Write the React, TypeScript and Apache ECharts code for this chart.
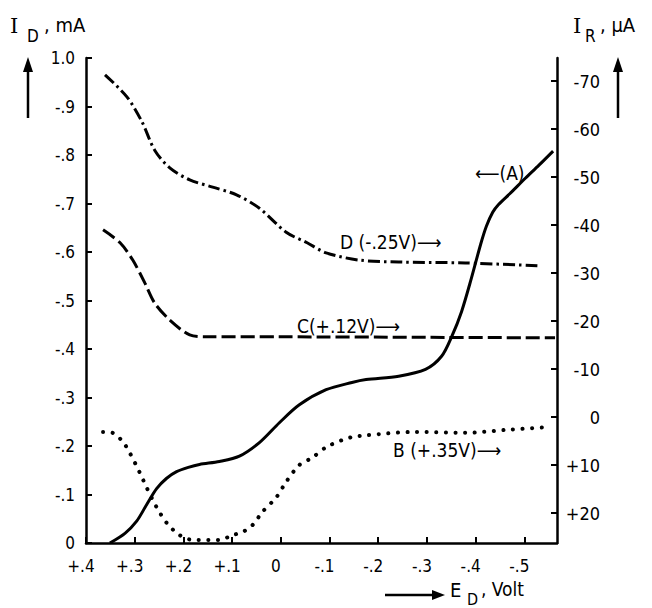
import React, { useEffect, useRef } from "react";
import * as echarts from "echarts";

// x axis: E_D in volts (left +0.4 to right about -0.57)
const xTickValues = [0.4, 0.3, 0.2, 0.1, 0, -0.1, -0.2, -0.3, -0.4, -0.5];
const xTickLabels = ["+.4", "+.3", "+.2", "+.1", "0", "-.1", "-.2", "-.3", "-.4", "-.5"];

// left axis: I_D in mA
const leftTickValues = [0, 0.1, 0.2, 0.3, 0.4, 0.5, 0.6, 0.7, 0.8, 0.9, 1.0];
const leftTickLabels = ["0", "-.1", "-.2", "-.3", "-.4", "-.5", "-.6", "-.7", "-.8", "-.9", "1.0"];

// right axis: I_R in µA (inverted)
const rightTickValues = [20, 10, 0, -10, -20, -30, -40, -50, -60, -70];
const rightTickLabels = ["+20", "+10", "0", "-10", "-20", "-30", "-40", "-50", "-60", "-70"];

// Curve A (left axis, I_D mA)
const curveA: [number, number][] = [
  [0.351, 0], [0.32, 0.02], [0.296, 0.045], [0.275, 0.08], [0.255, 0.112], [0.235, 0.133],
  [0.214, 0.147], [0.19, 0.156], [0.167, 0.162], [0.126, 0.168], [0.085, 0.179],
  [0.044, 0.207], [0.003, 0.248], [-0.038, 0.285], [-0.093, 0.316], [-0.146, 0.331],
  [-0.175, 0.337], [-0.242, 0.344], [-0.297, 0.358], [-0.33, 0.385], [-0.351, 0.426],
  [-0.371, 0.477], [-0.391, 0.545], [-0.41, 0.615], [-0.422, 0.653], [-0.435, 0.682],
  [-0.447, 0.698], [-0.47, 0.72], [-0.502, 0.752], [-0.53, 0.779], [-0.559, 0.808],
];

// Curve D (-.25V) right axis, I_R µA
const curveD: [number, number][] = [
  [0.361, -71.3], [0.316, -66.7], [0.285, -61.5], [0.259, -55.6], [0.228, -51.9],
  [0.187, -49.4], [0.14, -47.9], [0.091, -46.3], [0.044, -43.5], [-0.011, -38.5],
  [-0.054, -36.3], [-0.093, -34.2], [-0.16, -32.7], [-0.242, -32.3], [-0.379, -32.1],
  [-0.528, -31.5],
];

// Curve C (+.12V) right axis
const curveC: [number, number][] = [
  [0.365, -39.0], [0.33, -36.3], [0.304, -32.7], [0.279, -27.9], [0.259, -23.75],
  [0.228, -20.2], [0.187, -17.1], [0.153, -16.7], [0.003, -16.7], [-0.3, -16.6],
  [-0.563, -16.5],
];

// Curve B (+.35V) right axis
const curveB: [number, number][] = [
  [0.365, 3.1], [0.345, 3.3], [0.324, 5.2], [0.31, 7.5], [0.29, 11.5], [0.275, 14.8],
  [0.255, 18.8], [0.234, 22.1], [0.208, 24.6], [0.181, 25.6], [0.126, 25.6],
  [0.099, 24.6], [0.079, 24.0], [0.058, 22.5], [0.038, 19.8], [0.009, 16.7],
  [-0.011, 13.5], [-0.038, 10.0], [-0.064, 8.5], [-0.093, 6.3], [-0.126, 4.8],
  [-0.146, 4.2], [-0.175, 3.8], [-0.277, 3.1], [-0.379, 3.3], [-0.461, 2.7],
  [-0.549, 2.1],
];

const FONT = "'DejaVu Sans Condensed', 'DejaVu Sans', sans-serif";
const SERIF = "'DejaVu Serif', serif";

function labelFor(values: number[], labels: string[]) {
  return (v: number) => {
    let best = 0;
    let bd = Infinity;
    values.forEach((t, i) => {
      const d = Math.abs(t - v);
      if (d < bd) { bd = d; best = i; }
    });
    return labels[best];
  };
}

export default function App() {
  const ref = useRef<HTMLDivElement>(null);
  useEffect(() => {
    if (!ref.current) return;
    const chart = echarts.init(ref.current, undefined, { renderer: "svg" });
    const axisLine = { show: true, onZero: false, lineStyle: { color: "#000", width: 2.5 } };
    const axisTick = (vals: number[]) => ({
      show: true, inside: true, length: 6, customValues: vals,
      lineStyle: { color: "#000", width: 2 },
    });
    const txt = (text: string, x: number, y: number, size: number, family: string = FONT) => ({
      type: "text", x, y,
      style: { text, fill: "#000", font: `${size}px ${family}`, textVerticalAlign: "middle" },
    });
    const lineCommon = { smooth: 0.3, showSymbol: false };
    chart.setOption({
      animation: false,
      grid: { left: 86, right: 95, top: 58, bottom: 65 },
      xAxis: {
        type: "value", inverse: true, min: -0.567, max: 0.4,
        axisLine, axisTick: axisTick(xTickValues), splitLine: { show: false },
        axisLabel: {
          customValues: xTickValues, formatter: labelFor(xTickValues, xTickLabels),
          color: "#000", fontSize: 17, fontFamily: FONT, margin: 14, padding: [0, 10, 0, 0],
        },
      },
      yAxis: [
        {
          type: "value", min: 0, max: 1, position: "left",
          axisLine, axisTick: axisTick(leftTickValues), splitLine: { show: false },
          axisLabel: {
            customValues: leftTickValues, formatter: labelFor(leftTickValues, leftTickLabels),
            color: "#000", fontSize: 17, fontFamily: FONT, margin: 11, padding: [0, 0, 10, 0],
          },
        },
        {
          type: "value", inverse: true, min: -74.8, max: 26.25, position: "right",
          axisLine, axisTick: axisTick(rightTickValues), splitLine: { show: false },
          axisLabel: {
            customValues: rightTickValues, formatter: labelFor(rightTickValues, rightTickLabels),
            color: "#000", fontSize: 18, fontFamily: FONT, margin: 43, align: "right",
            padding: [0, 0, 10, 0],
          },
        },
      ],
      series: [
        {
          type: "line", yAxisIndex: 0, data: curveA, ...lineCommon,
          lineStyle: { color: "#000", width: 3 },
        },
        {
          type: "line", yAxisIndex: 1, data: curveD, ...lineCommon,
          lineStyle: { color: "#000", width: 3, type: [12, 4, 2.5, 4] },
        },
        {
          type: "line", yAxisIndex: 1, data: curveC, ...lineCommon,
          lineStyle: { color: "#000", width: 3, type: [14, 5] },
        },
        {
          type: "line", yAxisIndex: 1, data: curveB, ...lineCommon,
          lineStyle: { color: "#000", width: 4, type: [0.1, 9.5], cap: "round" },
        },
      ],
      graphic: [
        // left title
        txt("I", 10, 26, 21, SERIF),
        txt("D", 27, 36, 17),
        txt(", mA", 44, 25, 20),
        // right title
        txt("I", 573, 26, 21, SERIF),
        txt("R", 585, 36, 17),
        txt(", µA", 600, 25, 20),
        // up arrows
        { type: "line", shape: { x1: 28, y1: 68, x2: 28, y2: 118 }, style: { stroke: "#000", lineWidth: 2.5 } },
        { type: "polygon", shape: { points: [[23, 72], [33, 72], [28, 57]] }, style: { fill: "#000" } },
        { type: "line", shape: { x1: 618, y1: 68, x2: 618, y2: 118 }, style: { stroke: "#000", lineWidth: 2.5 } },
        { type: "polygon", shape: { points: [[613, 72], [623, 72], [618, 57]] }, style: { fill: "#000" } },
        // x axis title with arrow
        { type: "line", shape: { x1: 385, y1: 595, x2: 436, y2: 595 }, style: { stroke: "#000", lineWidth: 2.5 } },
        { type: "polygon", shape: { points: [[432, 590], [432, 600], [445, 595]] }, style: { fill: "#000" } },
        txt("E", 450, 590, 20),
        txt("D", 467, 599, 16),
        txt(", Volt", 481, 589, 19),
        // curve labels
        txt("D (-.25V)⟶", 340, 242, 19),
        txt("C(+.12V)⟶", 297, 326, 19),
        txt("B (+.35V)⟶", 393, 450, 19),
        txt("⟵(A)", 475, 173, 19),
      ],
    });
    return () => chart.dispose();
  }, []);
  return (
    <div
      ref={ref}
      style={{ position: "absolute", left: 0, top: 0, width: 652, height: 608, background: "#fff" }}
    />
  );
}
